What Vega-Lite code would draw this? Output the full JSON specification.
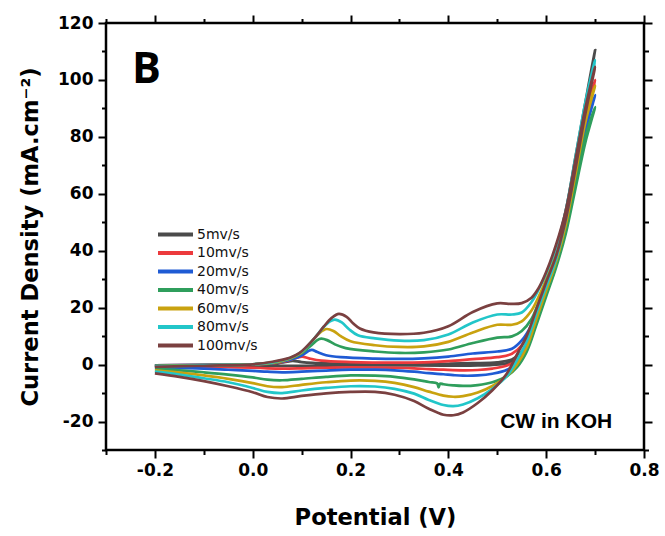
{
  "$schema": "https://vega.github.io/schema/vega-lite/v6.json",
  "width": 538,
  "height": 427,
  "autosize": {"type": "none"},
  "padding": {"left": 106, "top": 23, "right": 21, "bottom": 86},
  "background": "white",
  "config": {"view": {"stroke": "black", "strokeWidth": 2.5}},
  "resolve": {"axis": {"x": "independent", "y": "independent"}},
  "layer": [
    {
      "data": {"values": [
        {"rate":"5mv/s","x":-0.2,"y":-0.3},{"rate":"5mv/s","x":-0.1,"y":-0.1},{"rate":"5mv/s","x":0,"y":0.05},{"rate":"5mv/s","x":0.04,"y":0.3},{"rate":"5mv/s","x":0.065,"y":0.9},{"rate":"5mv/s","x":0.082,"y":1.3},{"rate":"5mv/s","x":0.1,"y":0.9},{"rate":"5mv/s","x":0.15,"y":0.4},{"rate":"5mv/s","x":0.25,"y":0.2},{"rate":"5mv/s","x":0.3,"y":0.2},{"rate":"5mv/s","x":0.35,"y":0.2},{"rate":"5mv/s","x":0.4,"y":0.3},{"rate":"5mv/s","x":0.45,"y":0.5},{"rate":"5mv/s","x":0.5,"y":0.8},{"rate":"5mv/s","x":0.53,"y":1.8},{"rate":"5mv/s","x":0.55,"y":4.5},{"rate":"5mv/s","x":0.57,"y":11},{"rate":"5mv/s","x":0.585,"y":19},{"rate":"5mv/s","x":0.6,"y":28},{"rate":"5mv/s","x":0.62,"y":40},{"rate":"5mv/s","x":0.64,"y":54},{"rate":"5mv/s","x":0.66,"y":73},{"rate":"5mv/s","x":0.68,"y":92},{"rate":"5mv/s","x":0.7,"y":110.5},
        {"rate":"5mv/s","x":0.68,"y":90},{"rate":"5mv/s","x":0.66,"y":71},{"rate":"5mv/s","x":0.64,"y":52},{"rate":"5mv/s","x":0.62,"y":38},{"rate":"5mv/s","x":0.6,"y":27},{"rate":"5mv/s","x":0.58,"y":15},{"rate":"5mv/s","x":0.56,"y":6.5},{"rate":"5mv/s","x":0.54,"y":2},{"rate":"5mv/s","x":0.52,"y":0.4},{"rate":"5mv/s","x":0.49,"y":-0.1},{"rate":"5mv/s","x":0.46,"y":-0.3},{"rate":"5mv/s","x":0.43,"y":-0.4},{"rate":"5mv/s","x":0.39,"y":-0.4},{"rate":"5mv/s","x":0.33,"y":-0.3},{"rate":"5mv/s","x":0.25,"y":-0.3},{"rate":"5mv/s","x":0.15,"y":-0.35},{"rate":"5mv/s","x":0.06,"y":-0.45},{"rate":"5mv/s","x":0,"y":-0.4},{"rate":"5mv/s","x":-0.1,"y":-0.4},{"rate":"5mv/s","x":-0.2,"y":-0.4},

        {"rate":"10mv/s","x":-0.2,"y":-0.3},{"rate":"10mv/s","x":-0.1,"y":-0.15},{"rate":"10mv/s","x":0,"y":0.05},{"rate":"10mv/s","x":0.04,"y":0.4},{"rate":"10mv/s","x":0.07,"y":1.3},{"rate":"10mv/s","x":0.09,"y":2.4},{"rate":"10mv/s","x":0.101,"y":2.8},{"rate":"10mv/s","x":0.115,"y":2.2},{"rate":"10mv/s","x":0.14,"y":1.4},{"rate":"10mv/s","x":0.2,"y":0.9},{"rate":"10mv/s","x":0.3,"y":0.7},{"rate":"10mv/s","x":0.35,"y":0.8},{"rate":"10mv/s","x":0.4,"y":1.2},{"rate":"10mv/s","x":0.45,"y":1.9},{"rate":"10mv/s","x":0.5,"y":2.6},{"rate":"10mv/s","x":0.53,"y":3.8},{"rate":"10mv/s","x":0.55,"y":6.8},{"rate":"10mv/s","x":0.57,"y":13},{"rate":"10mv/s","x":0.585,"y":20},{"rate":"10mv/s","x":0.6,"y":28},{"rate":"10mv/s","x":0.62,"y":39},{"rate":"10mv/s","x":0.64,"y":52},{"rate":"10mv/s","x":0.66,"y":70},{"rate":"10mv/s","x":0.68,"y":88},{"rate":"10mv/s","x":0.7,"y":100},
        {"rate":"10mv/s","x":0.68,"y":86},{"rate":"10mv/s","x":0.66,"y":68},{"rate":"10mv/s","x":0.64,"y":50},{"rate":"10mv/s","x":0.62,"y":36},{"rate":"10mv/s","x":0.6,"y":26},{"rate":"10mv/s","x":0.58,"y":15},{"rate":"10mv/s","x":0.56,"y":6},{"rate":"10mv/s","x":0.54,"y":1.5},{"rate":"10mv/s","x":0.52,"y":-0.3},{"rate":"10mv/s","x":0.49,"y":-1.4},{"rate":"10mv/s","x":0.46,"y":-1.9},{"rate":"10mv/s","x":0.43,"y":-2.0},{"rate":"10mv/s","x":0.39,"y":-1.8},{"rate":"10mv/s","x":0.36,"y":-1.6},{"rate":"10mv/s","x":0.33,"y":-1.3},{"rate":"10mv/s","x":0.29,"y":-1.1},{"rate":"10mv/s","x":0.2,"y":-1.0},{"rate":"10mv/s","x":0.15,"y":-1.1},{"rate":"10mv/s","x":0.1,"y":-1.3},{"rate":"10mv/s","x":0.06,"y":-1.4},{"rate":"10mv/s","x":0.03,"y":-1.3},{"rate":"10mv/s","x":0,"y":-1.1},{"rate":"10mv/s","x":-0.05,"y":-0.9},{"rate":"10mv/s","x":-0.1,"y":-0.8},{"rate":"10mv/s","x":-0.2,"y":-0.7},

        {"rate":"20mv/s","x":-0.2,"y":-0.3},{"rate":"20mv/s","x":-0.1,"y":-0.15},{"rate":"20mv/s","x":0,"y":0.1},{"rate":"20mv/s","x":0.04,"y":0.5},{"rate":"20mv/s","x":0.075,"y":1.6},{"rate":"20mv/s","x":0.1,"y":3.2},{"rate":"20mv/s","x":0.113,"y":4.7},{"rate":"20mv/s","x":0.121,"y":5.2},{"rate":"20mv/s","x":0.132,"y":4.4},{"rate":"20mv/s","x":0.15,"y":3.3},{"rate":"20mv/s","x":0.18,"y":2.6},{"rate":"20mv/s","x":0.25,"y":2.1},{"rate":"20mv/s","x":0.3,"y":2.0},{"rate":"20mv/s","x":0.35,"y":2.2},{"rate":"20mv/s","x":0.4,"y":2.8},{"rate":"20mv/s","x":0.45,"y":3.9},{"rate":"20mv/s","x":0.5,"y":4.6},{"rate":"20mv/s","x":0.53,"y":5.6},{"rate":"20mv/s","x":0.55,"y":8.5},{"rate":"20mv/s","x":0.57,"y":14},{"rate":"20mv/s","x":0.585,"y":21},{"rate":"20mv/s","x":0.6,"y":28},{"rate":"20mv/s","x":0.62,"y":38},{"rate":"20mv/s","x":0.64,"y":50},{"rate":"20mv/s","x":0.66,"y":67},{"rate":"20mv/s","x":0.68,"y":84},{"rate":"20mv/s","x":0.7,"y":94.7},
        {"rate":"20mv/s","x":0.68,"y":82},{"rate":"20mv/s","x":0.66,"y":65},{"rate":"20mv/s","x":0.64,"y":48},{"rate":"20mv/s","x":0.62,"y":35},{"rate":"20mv/s","x":0.6,"y":25},{"rate":"20mv/s","x":0.58,"y":15},{"rate":"20mv/s","x":0.56,"y":5.5},{"rate":"20mv/s","x":0.54,"y":0.8},{"rate":"20mv/s","x":0.52,"y":-1.8},{"rate":"20mv/s","x":0.49,"y":-3.2},{"rate":"20mv/s","x":0.46,"y":-3.8},{"rate":"20mv/s","x":0.43,"y":-3.9},{"rate":"20mv/s","x":0.41,"y":-3.7},{"rate":"20mv/s","x":0.39,"y":-3.4},{"rate":"20mv/s","x":0.36,"y":-3.0},{"rate":"20mv/s","x":0.33,"y":-2.5},{"rate":"20mv/s","x":0.29,"y":-2.0},{"rate":"20mv/s","x":0.25,"y":-1.8},{"rate":"20mv/s","x":0.2,"y":-1.8},{"rate":"20mv/s","x":0.15,"y":-2.1},{"rate":"20mv/s","x":0.1,"y":-2.5},{"rate":"20mv/s","x":0.06,"y":-2.7},{"rate":"20mv/s","x":0.03,"y":-2.5},{"rate":"20mv/s","x":0,"y":-2.2},{"rate":"20mv/s","x":-0.05,"y":-1.8},{"rate":"20mv/s","x":-0.1,"y":-1.4},{"rate":"20mv/s","x":-0.15,"y":-1.2},{"rate":"20mv/s","x":-0.2,"y":-1.0},

        {"rate":"40mv/s","x":-0.2,"y":-0.4},{"rate":"40mv/s","x":-0.1,"y":-0.2},{"rate":"40mv/s","x":0,"y":0.1},{"rate":"40mv/s","x":0.04,"y":0.6},{"rate":"40mv/s","x":0.075,"y":2},{"rate":"40mv/s","x":0.1,"y":4},{"rate":"40mv/s","x":0.12,"y":6.8},{"rate":"40mv/s","x":0.132,"y":8.6},{"rate":"40mv/s","x":0.14,"y":9.1},{"rate":"40mv/s","x":0.152,"y":8.6},{"rate":"40mv/s","x":0.168,"y":7.1},{"rate":"40mv/s","x":0.19,"y":5.8},{"rate":"40mv/s","x":0.25,"y":4.6},{"rate":"40mv/s","x":0.3,"y":4.1},{"rate":"40mv/s","x":0.35,"y":4.3},{"rate":"40mv/s","x":0.4,"y":5.3},{"rate":"40mv/s","x":0.45,"y":7.6},{"rate":"40mv/s","x":0.5,"y":9.5},{"rate":"40mv/s","x":0.53,"y":9.9},{"rate":"40mv/s","x":0.55,"y":11.8},{"rate":"40mv/s","x":0.57,"y":16},{"rate":"40mv/s","x":0.585,"y":22},{"rate":"40mv/s","x":0.6,"y":28},{"rate":"40mv/s","x":0.62,"y":37},{"rate":"40mv/s","x":0.64,"y":48},{"rate":"40mv/s","x":0.66,"y":64},{"rate":"40mv/s","x":0.68,"y":80},{"rate":"40mv/s","x":0.7,"y":90.5},
        {"rate":"40mv/s","x":0.68,"y":78},{"rate":"40mv/s","x":0.66,"y":62},{"rate":"40mv/s","x":0.64,"y":46},{"rate":"40mv/s","x":0.62,"y":34},{"rate":"40mv/s","x":0.6,"y":24},{"rate":"40mv/s","x":0.58,"y":14},{"rate":"40mv/s","x":0.56,"y":4.5},{"rate":"40mv/s","x":0.54,"y":-1},{"rate":"40mv/s","x":0.52,"y":-4},{"rate":"40mv/s","x":0.49,"y":-6.2},{"rate":"40mv/s","x":0.46,"y":-7.2},{"rate":"40mv/s","x":0.43,"y":-7.5},{"rate":"40mv/s","x":0.41,"y":-7.3},{"rate":"40mv/s","x":0.39,"y":-6.9},{"rate":"40mv/s","x":0.383,"y":-6.7},{"rate":"40mv/s","x":0.38,"y":-8.0},{"rate":"40mv/s","x":0.377,"y":-6.6},{"rate":"40mv/s","x":0.36,"y":-6.1},{"rate":"40mv/s","x":0.33,"y":-5.2},{"rate":"40mv/s","x":0.29,"y":-4.3},{"rate":"40mv/s","x":0.25,"y":-3.9},{"rate":"40mv/s","x":0.2,"y":-3.8},{"rate":"40mv/s","x":0.15,"y":-4.3},{"rate":"40mv/s","x":0.1,"y":-5.0},{"rate":"40mv/s","x":0.06,"y":-5.5},{"rate":"40mv/s","x":0.03,"y":-5.3},{"rate":"40mv/s","x":0,"y":-4.5},{"rate":"40mv/s","x":-0.05,"y":-3.5},{"rate":"40mv/s","x":-0.1,"y":-2.7},{"rate":"40mv/s","x":-0.15,"y":-2.0},{"rate":"40mv/s","x":-0.2,"y":-1.5},

        {"rate":"60mv/s","x":-0.2,"y":-0.5},{"rate":"60mv/s","x":-0.1,"y":-0.25},{"rate":"60mv/s","x":0,"y":0.1},{"rate":"60mv/s","x":0.04,"y":0.7},{"rate":"60mv/s","x":0.075,"y":2.1},{"rate":"60mv/s","x":0.1,"y":4.3},{"rate":"60mv/s","x":0.12,"y":8},{"rate":"60mv/s","x":0.138,"y":11.3},{"rate":"60mv/s","x":0.151,"y":12.5},{"rate":"60mv/s","x":0.165,"y":11.8},{"rate":"60mv/s","x":0.18,"y":10},{"rate":"60mv/s","x":0.2,"y":8.2},{"rate":"60mv/s","x":0.25,"y":6.8},{"rate":"60mv/s","x":0.3,"y":6.2},{"rate":"60mv/s","x":0.35,"y":6.4},{"rate":"60mv/s","x":0.4,"y":8},{"rate":"60mv/s","x":0.45,"y":11.3},{"rate":"60mv/s","x":0.5,"y":14},{"rate":"60mv/s","x":0.53,"y":14},{"rate":"60mv/s","x":0.55,"y":15.2},{"rate":"60mv/s","x":0.57,"y":19},{"rate":"60mv/s","x":0.585,"y":24},{"rate":"60mv/s","x":0.6,"y":30},{"rate":"60mv/s","x":0.62,"y":39},{"rate":"60mv/s","x":0.64,"y":51},{"rate":"60mv/s","x":0.66,"y":69},{"rate":"60mv/s","x":0.68,"y":87},{"rate":"60mv/s","x":0.7,"y":98},
        {"rate":"60mv/s","x":0.68,"y":85},{"rate":"60mv/s","x":0.66,"y":67},{"rate":"60mv/s","x":0.64,"y":49},{"rate":"60mv/s","x":0.62,"y":36},{"rate":"60mv/s","x":0.6,"y":26},{"rate":"60mv/s","x":0.58,"y":16},{"rate":"60mv/s","x":0.56,"y":6},{"rate":"60mv/s","x":0.54,"y":0},{"rate":"60mv/s","x":0.52,"y":-4},{"rate":"60mv/s","x":0.49,"y":-7.5},{"rate":"60mv/s","x":0.46,"y":-9.8},{"rate":"60mv/s","x":0.43,"y":-11.1},{"rate":"60mv/s","x":0.41,"y":-11.3},{"rate":"60mv/s","x":0.39,"y":-10.9},{"rate":"60mv/s","x":0.36,"y":-9.5},{"rate":"60mv/s","x":0.33,"y":-7.9},{"rate":"60mv/s","x":0.29,"y":-6.4},{"rate":"60mv/s","x":0.25,"y":-5.7},{"rate":"60mv/s","x":0.2,"y":-5.6},{"rate":"60mv/s","x":0.15,"y":-6.2},{"rate":"60mv/s","x":0.1,"y":-7.1},{"rate":"60mv/s","x":0.06,"y":-7.9},{"rate":"60mv/s","x":0.03,"y":-7.6},{"rate":"60mv/s","x":0,"y":-6.5},{"rate":"60mv/s","x":-0.05,"y":-5.0},{"rate":"60mv/s","x":-0.1,"y":-3.8},{"rate":"60mv/s","x":-0.15,"y":-2.8},{"rate":"60mv/s","x":-0.2,"y":-2.0},

        {"rate":"80mv/s","x":-0.2,"y":-0.6},{"rate":"80mv/s","x":-0.1,"y":-0.3},{"rate":"80mv/s","x":0,"y":0.1},{"rate":"80mv/s","x":0.04,"y":0.8},{"rate":"80mv/s","x":0.075,"y":2.2},{"rate":"80mv/s","x":0.1,"y":4.5},{"rate":"80mv/s","x":0.125,"y":9},{"rate":"80mv/s","x":0.145,"y":13.2},{"rate":"80mv/s","x":0.158,"y":15.2},{"rate":"80mv/s","x":0.168,"y":15.8},{"rate":"80mv/s","x":0.182,"y":14.8},{"rate":"80mv/s","x":0.197,"y":12.4},{"rate":"80mv/s","x":0.215,"y":10.3},{"rate":"80mv/s","x":0.25,"y":9.2},{"rate":"80mv/s","x":0.3,"y":8.4},{"rate":"80mv/s","x":0.35,"y":8.6},{"rate":"80mv/s","x":0.4,"y":10.6},{"rate":"80mv/s","x":0.45,"y":14.8},{"rate":"80mv/s","x":0.5,"y":17.6},{"rate":"80mv/s","x":0.53,"y":17.6},{"rate":"80mv/s","x":0.55,"y":18.3},{"rate":"80mv/s","x":0.57,"y":22},{"rate":"80mv/s","x":0.585,"y":26.5},{"rate":"80mv/s","x":0.6,"y":32},{"rate":"80mv/s","x":0.62,"y":41},{"rate":"80mv/s","x":0.64,"y":54},{"rate":"80mv/s","x":0.66,"y":73},{"rate":"80mv/s","x":0.68,"y":92},{"rate":"80mv/s","x":0.7,"y":107},
        {"rate":"80mv/s","x":0.68,"y":89},{"rate":"80mv/s","x":0.66,"y":70},{"rate":"80mv/s","x":0.64,"y":51},{"rate":"80mv/s","x":0.62,"y":37},{"rate":"80mv/s","x":0.6,"y":27.5},{"rate":"80mv/s","x":0.58,"y":18},{"rate":"80mv/s","x":0.56,"y":8},{"rate":"80mv/s","x":0.54,"y":1.5},{"rate":"80mv/s","x":0.52,"y":-4},{"rate":"80mv/s","x":0.49,"y":-8.5},{"rate":"80mv/s","x":0.46,"y":-11.8},{"rate":"80mv/s","x":0.43,"y":-14},{"rate":"80mv/s","x":0.41,"y":-14.6},{"rate":"80mv/s","x":0.39,"y":-14.2},{"rate":"80mv/s","x":0.36,"y":-12.4},{"rate":"80mv/s","x":0.33,"y":-10.2},{"rate":"80mv/s","x":0.29,"y":-8.5},{"rate":"80mv/s","x":0.25,"y":-7.7},{"rate":"80mv/s","x":0.2,"y":-7.6},{"rate":"80mv/s","x":0.15,"y":-8.2},{"rate":"80mv/s","x":0.1,"y":-9.1},{"rate":"80mv/s","x":0.06,"y":-10},{"rate":"80mv/s","x":0.03,"y":-9.6},{"rate":"80mv/s","x":0,"y":-8.2},{"rate":"80mv/s","x":-0.05,"y":-6.2},{"rate":"80mv/s","x":-0.1,"y":-4.8},{"rate":"80mv/s","x":-0.15,"y":-3.5},{"rate":"80mv/s","x":-0.2,"y":-2.5},

        {"rate":"100mv/s","x":-0.2,"y":-0.8},{"rate":"100mv/s","x":-0.1,"y":-0.4},{"rate":"100mv/s","x":0,"y":0.1},{"rate":"100mv/s","x":0.04,"y":1.0},{"rate":"100mv/s","x":0.076,"y":2.4},{"rate":"100mv/s","x":0.095,"y":4},{"rate":"100mv/s","x":0.11,"y":6.3},{"rate":"100mv/s","x":0.13,"y":10},{"rate":"100mv/s","x":0.145,"y":13.3},{"rate":"100mv/s","x":0.162,"y":16.5},{"rate":"100mv/s","x":0.176,"y":17.8},{"rate":"100mv/s","x":0.192,"y":16.8},{"rate":"100mv/s","x":0.205,"y":14.5},{"rate":"100mv/s","x":0.219,"y":12.7},{"rate":"100mv/s","x":0.247,"y":11.3},{"rate":"100mv/s","x":0.3,"y":10.7},{"rate":"100mv/s","x":0.35,"y":11.2},{"rate":"100mv/s","x":0.4,"y":13.5},{"rate":"100mv/s","x":0.45,"y":18.5},{"rate":"100mv/s","x":0.5,"y":21.5},{"rate":"100mv/s","x":0.53,"y":21.3},{"rate":"100mv/s","x":0.55,"y":21.6},{"rate":"100mv/s","x":0.57,"y":23.5},{"rate":"100mv/s","x":0.585,"y":27},{"rate":"100mv/s","x":0.6,"y":32.5},{"rate":"100mv/s","x":0.62,"y":42},{"rate":"100mv/s","x":0.64,"y":54},{"rate":"100mv/s","x":0.66,"y":72},{"rate":"100mv/s","x":0.68,"y":90},{"rate":"100mv/s","x":0.7,"y":104.6},
        {"rate":"100mv/s","x":0.68,"y":88},{"rate":"100mv/s","x":0.66,"y":69},{"rate":"100mv/s","x":0.64,"y":51},{"rate":"100mv/s","x":0.62,"y":38},{"rate":"100mv/s","x":0.6,"y":29},{"rate":"100mv/s","x":0.58,"y":19.5},{"rate":"100mv/s","x":0.56,"y":10},{"rate":"100mv/s","x":0.54,"y":3.5},{"rate":"100mv/s","x":0.52,"y":-3},{"rate":"100mv/s","x":0.49,"y":-9},{"rate":"100mv/s","x":0.46,"y":-13.5},{"rate":"100mv/s","x":0.43,"y":-16.8},{"rate":"100mv/s","x":0.41,"y":-17.8},{"rate":"100mv/s","x":0.39,"y":-17.6},{"rate":"100mv/s","x":0.36,"y":-15.5},{"rate":"100mv/s","x":0.33,"y":-12.8},{"rate":"100mv/s","x":0.29,"y":-10.6},{"rate":"100mv/s","x":0.25,"y":-9.6},{"rate":"100mv/s","x":0.2,"y":-9.6},{"rate":"100mv/s","x":0.15,"y":-10.1},{"rate":"100mv/s","x":0.1,"y":-11},{"rate":"100mv/s","x":0.06,"y":-11.9},{"rate":"100mv/s","x":0.03,"y":-11.4},{"rate":"100mv/s","x":0,"y":-9.7},{"rate":"100mv/s","x":-0.05,"y":-7.6},{"rate":"100mv/s","x":-0.1,"y":-5.8},{"rate":"100mv/s","x":-0.15,"y":-4.3},{"rate":"100mv/s","x":-0.2,"y":-3.1}
      ]},
      "mark": {"type": "line", "strokeWidth": 2.7, "interpolate": "catmull-rom"},
      "encoding": {
        "x": {"field": "x", "type": "quantitative",
          "scale": {"domain": [-0.3, 0.8], "nice": false, "zero": false},
          "axis": {"orient": "bottom", "domain": false, "grid": false,
            "values": [-0.3,-0.2,-0.1,0,0.1,0.2,0.3,0.4,0.5,0.6,0.7,0.8],
            "labelExpr": "abs(round(datum.value*10))%2==0 ? replace(format(datum.value,'.1f'),'\u2212','-') : ''",
            "labelFont": "DejaVu Sans", "labelFontSize": 17, "labelFontWeight": "bold", "labelColor": "black",
            "labelPadding": 4, "labelFlush": false, "labelOverlap": false,
            "tickColor": "black", "tickWidth": 2,
            "tickSize": {"condition": {"test": "abs(round(datum.value*10))%2==0", "value": 8}, "value": 4.5},
            "title": "Potential (V)", "titleFont": "DejaVu Sans", "titleFontSize": 22.6, "titleFontWeight": "bold", "titleColor": "black", "titlePadding": 28}},
        "y": {"field": "y", "type": "quantitative",
          "scale": {"domain": [-30, 120], "nice": false, "zero": false},
          "axis": {"orient": "left", "domain": false, "grid": false,
            "values": [-30,-20,-10,0,10,20,30,40,50,60,70,80,90,100,110,120],
            "labelExpr": "datum.value%20==0 ? replace(format(datum.value,'d'),'\u2212','-') : ''",
            "labelFont": "DejaVu Sans", "labelFontSize": 17, "labelFontWeight": "bold", "labelColor": "black",
            "labelPadding": 5, "labelFlush": false, "labelOverlap": false,
            "tickColor": "black", "tickWidth": 2,
            "tickSize": {"condition": {"test": "datum.value%20==0", "value": 8}, "value": 4.5},
            "title": "Current Density (mA.cm⁻²)", "titleFont": "DejaVu Sans", "titleFontSize": 22.6, "titleFontWeight": "bold", "titleColor": "black", "titlePadding": 15}},
        "color": {"field": "rate", "type": "nominal",
          "scale": {"domain": ["5mv/s","10mv/s","20mv/s","40mv/s","60mv/s","80mv/s","100mv/s"],
                    "range": ["#4b4b4b","#ec3a3d","#1f5bd4","#2f9e5c","#c9a20f","#22c6c9","#7a4040"]},
          "legend": {"orient": "none", "legendX": 50, "legendY": 203.5, "title": null,
            "symbolType": "stroke", "symbolSize": 1225, "symbolStrokeWidth": 4,
            "labelFont": "DejaVu Sans", "labelFontSize": 14, "labelColor": "#111",
            "clipHeight": 16, "rowPadding": 2.5, "padding": 0, "labelOffset": 2}},
        "order": {"value": null}
      }
    },
    {
      "data": {"values": [{"label": "B", "x": -0.247, "y": 98.8}]},
      "mark": {"type": "text", "font": "Open Sans", "fontSize": 43, "fontWeight": "bold", "align": "left", "baseline": "alphabetic", "color": "black"},
      "encoding": {
        "x": {"field": "x", "type": "quantitative",
          "axis": {"orient": "top", "domain": false, "grid": false, "labels": false, "title": null,
            "values": [-0.3,-0.2,-0.1,0,0.1,0.2,0.3,0.4,0.5,0.6,0.7,0.8],
            "tickColor": "black", "tickWidth": 2,
            "tickSize": {"condition": {"test": "abs(round(datum.value*10))%2==0", "value": 8}, "value": 4.5}}},
        "y": {"field": "y", "type": "quantitative",
          "axis": {"orient": "right", "domain": false, "grid": false, "labels": false, "title": null,
            "values": [-30,-20,-10,0,10,20,30,40,50,60,70,80,90,100,110,120],
            "tickColor": "black", "tickWidth": 2,
            "tickSize": {"condition": {"test": "datum.value%20==0", "value": 8}, "value": 4.5}}},
        "text": {"field": "label"}
      }
    },
    {
      "data": {"values": [{"label": "CW in KOH", "x": 0.506, "y": -22.3}]},
      "mark": {"type": "text", "font": "Liberation Sans", "fontSize": 21, "fontWeight": "bold", "align": "left", "baseline": "alphabetic", "color": "black"},
      "encoding": {
        "x": {"field": "x", "type": "quantitative", "axis": null},
        "y": {"field": "y", "type": "quantitative", "axis": null},
        "text": {"field": "label"}
      }
    }
  ]
}
